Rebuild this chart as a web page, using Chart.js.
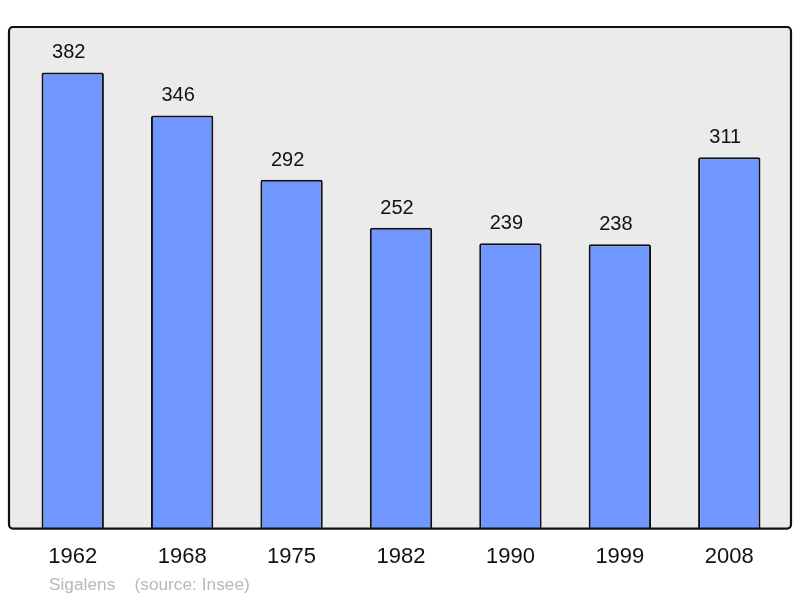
<!DOCTYPE html>
<html>
<head>
<meta charset="utf-8">
<script src="https://cdn.jsdelivr.net/npm/chart.js@4.4.0/dist/chart.umd.min.js"></script>
<style>
  html, body { margin: 0; padding: 0; background: #fff; }
  #wrap { width: 800px; height: 598px; }
</style>
</head>
<body>
<div id="wrap"><canvas id="chart" width="800" height="598"></canvas></div>
<script>
const years = ['1962', '1968', '1975', '1982', '1990', '1999', '2008'];
const population = [382, 346, 292, 252, 239, 238, 311];
const footerText = 'Sigalens    (source: Insee)';

// grey panel behind the bars, value labels and the credit line
const panelPlugin = {
    id: 'panel',
    beforeDraw(chart) {
        const ctx = chart.ctx;
        const a = chart.chartArea;
        ctx.save();
        ctx.beginPath();
        ctx.roundRect(9, a.top, 782, a.bottom - a.top, 4);
        ctx.fillStyle = '#ebebeb';
        ctx.fill();
        ctx.restore();
    },
    afterDatasetsDraw(chart) {
        const ctx = chart.ctx;
        const a = chart.chartArea;
        ctx.save();
        ctx.beginPath();
        ctx.roundRect(9, a.top, 782, a.bottom - a.top, 4);
        ctx.lineWidth = 2.2;
        ctx.strokeStyle = '#111';
        ctx.stroke();

        ctx.fillStyle = '#111';
        ctx.font = '20px "Liberation Sans", Arial, sans-serif';
        ctx.textAlign = 'center';
        ctx.textBaseline = 'alphabetic';
        chart.getDatasetMeta(0).data.forEach((bar, i) => {
            ctx.fillText(String(population[i]), bar.x - 4, bar.y - 14);
        });

        ctx.fillStyle = '#b8b8b8';
        ctx.font = '17.3px "Liberation Sans", Arial, sans-serif';
        ctx.textAlign = 'left';
        ctx.fillText(footerText, 49, 590);
        ctx.restore();
    }
};

new Chart(document.getElementById('chart'), {
    type: 'bar',
    data: {
        labels: years,
        datasets: [{
            data: population,
            backgroundColor: '#7096ff',
            borderColor: '#111',
            borderWidth: 2,
            borderRadius: 2,
            borderSkipped: 'bottom',
            barPercentage: 0.57,
            categoryPercentage: 1.0
        }]
    },
    options: {
        responsive: false,
        animation: false,
        layout: { padding: { left: 18, right: 16, top: 27, bottom: 13 } },
        scales: {
            x: {
                grid: { display: false, drawTicks: false },
                border: { display: false },
                ticks: {
                    color: '#111',
                    padding: 15,
                    font: { size: 22, family: '"Liberation Sans", Arial, sans-serif' }
                }
            },
            y: {
                display: false,
                min: 0,
                max: 420
            }
        },
        plugins: {
            legend: { display: false },
            tooltip: { enabled: false }
        }
    },
    plugins: [panelPlugin]
});
</script>
</body>
</html>
